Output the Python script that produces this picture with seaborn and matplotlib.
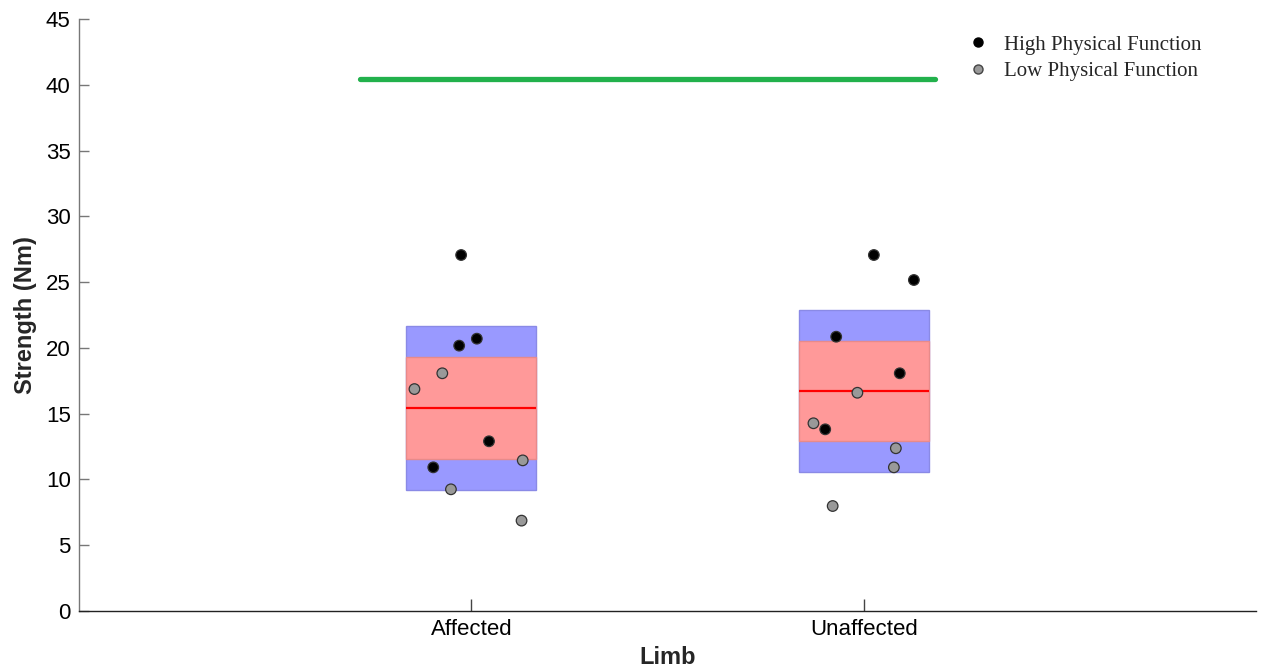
import numpy as np
import pandas as pd
import matplotlib
matplotlib.use("Agg")
import matplotlib.pyplot as plt
from matplotlib.patches import Rectangle
from matplotlib.lines import Line2D
import seaborn as sns

# ---- data ----
limbs = ["Affected", "Unaffected"]

affected_strength = [27.06, 20.17, 20.70, 18.07, 16.87, 12.90, 10.92, 11.45, 9.25, 6.87]
affected_group = ["High", "High", "High", "Low", "Low", "High", "High", "Low", "Low", "Low"]
affected_jitter = [-0.026, -0.031, 0.014, -0.074, -0.145, 0.045, -0.097, 0.131, -0.052, 0.128]

unaffected_strength = [27.06, 25.16, 20.85, 18.07, 16.59, 14.27, 13.81, 12.37, 10.92, 7.98]
unaffected_group = ["High", "High", "High", "High", "Low", "Low", "High", "Low", "Low", "Low"]
unaffected_jitter = [0.026, 0.128, -0.070, 0.092, -0.016, -0.128, -0.098, 0.082, 0.077, -0.079]

reference_strength = 40.46
reference_span = (-0.283, 1.181)

group_labels = {"High": "High Physical Function", "Low": "Low Physical Function"}

# ---- tidy frame ----
frames = []
for i, (limb, vals, grp, jit) in enumerate([
        ("Affected", affected_strength, affected_group, affected_jitter),
        ("Unaffected", unaffected_strength, unaffected_group, unaffected_jitter)]):
    frames.append(pd.DataFrame({
        "Limb": limb,
        "pos": i + np.asarray(jit),
        "Strength": vals,
        "Group": grp,
    }))
df = pd.concat(frames, ignore_index=True)

sns.set_theme(style="white")
plt.rcParams["font.family"] = ["Liberation Sans", "DejaVu Sans"]

fig = plt.figure(figsize=(12.62, 6.70), dpi=100)
ax = fig.add_axes([79 / 1262, 59 / 670, (1256 - 79) / 1262, (611 - 19) / 670])

# mean with 95% CI (red) and +/- SD (blue) bands
half_w = 0.166
for i, limb in enumerate(limbs):
    v = df.loc[df["Limb"] == limb, "Strength"].to_numpy()
    m = v.mean()
    sd = v.std(ddof=1)
    ci = 1.96 * sd / np.sqrt(len(v))
    ax.add_patch(Rectangle((i - half_w, m - sd), 2 * half_w, 2 * sd,
                           facecolor="#9999ff", edgecolor="#8a8ae6", lw=1.0, zorder=1))
    ax.add_patch(Rectangle((i - half_w, m - ci), 2 * half_w, 2 * ci,
                           facecolor="#ff9999", edgecolor="#e88a8a", lw=1.0, zorder=2))
    ax.plot([i - half_w, i + half_w], [m, m], color="#ff0000", lw=1.6, zorder=3,
            solid_capstyle="butt")

# individual participants
sns.scatterplot(data=df, x="pos", y="Strength", hue="Group",
                palette={"High": "#000000", "Low": "#999999"},
                hue_order=["High", "Low"], s=58, linewidth=0.9,
                edgecolor="#333333", legend=False, ax=ax, zorder=5)

# reference strength
ax.plot(list(reference_span), [reference_strength, reference_strength],
        color="#22b14c", lw=3.8, solid_capstyle="round", zorder=4)

ax.set_xlim(-1, 2)
ax.set_ylim(0, 45)
ax.set_xticks(range(len(limbs)))
ax.set_xticklabels(limbs)
ax.set_yticks(np.arange(0, 46, 5))
ax.tick_params(axis="both", direction="in", length=7, width=1, labelsize=16,
               labelcolor="#000000", pad=6, left=True, bottom=True)
ax.tick_params(axis="y", color="#777777")
ax.tick_params(axis="x", color="#444444", length=9)
ax.set_xlabel("Limb", fontsize=17, fontweight="bold", labelpad=4)
ax.set_ylabel("Strength (Nm)", fontsize=17, fontweight="bold", labelpad=6)

sns.despine(ax=ax)
ax.spines["left"].set_color("#777777")
ax.spines["bottom"].set_color("#222222")
ax.spines["left"].set_linewidth(1.0)
ax.spines["bottom"].set_linewidth(1.0)

handles = [
    Line2D([], [], marker="o", ls="", markersize=6.5, markerfacecolor="#000000",
           markeredgecolor="#000000", label=group_labels["High"]),
    Line2D([], [], marker="o", ls="", markersize=6.5, markerfacecolor="#999999",
           markeredgecolor="#444444", label=group_labels["Low"]),
]
fig.legend(handles=handles, loc="upper left", bbox_to_anchor=(968 / 1262, 1 - 35 / 670),
           frameon=False, handlelength=1.0, handletextpad=0.75, labelspacing=0.32,
           borderaxespad=0, borderpad=0,
           prop={"family": "Liberation Serif", "size": 15})

fig.savefig("out.png", dpi=100)
